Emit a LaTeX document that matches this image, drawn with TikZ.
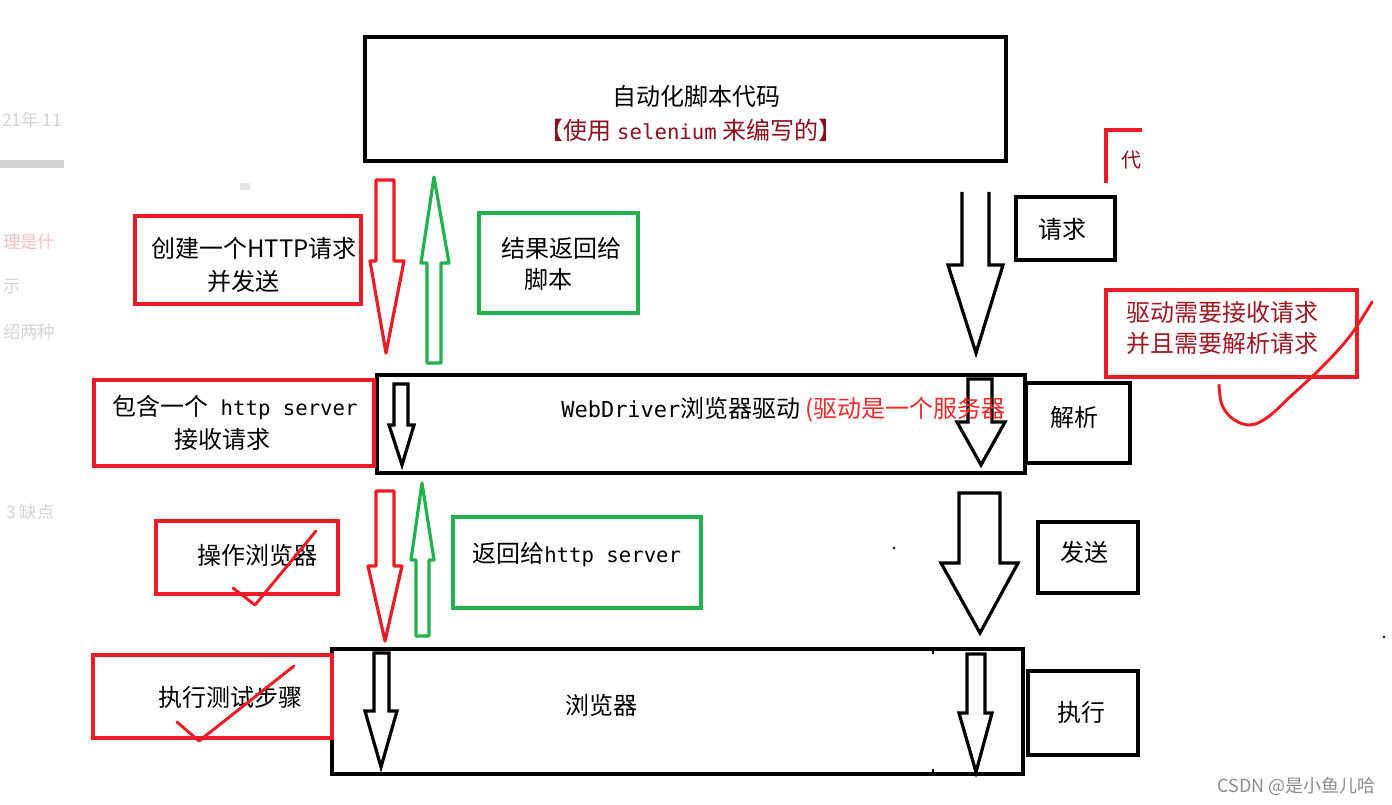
\documentclass[tikz,border=0pt]{standalone}
\usepackage{fontspec}
\setmainfont{Noto Sans CJK SC}
\newfontfamily\monof{DejaVu Sans Mono}
\definecolor{pred}{HTML}{ED1C24}
\definecolor{pgreen}{HTML}{22B14C}
\definecolor{dred}{HTML}{8B0F1A}
\definecolor{mred}{HTML}{9E1822}
\definecolor{tred}{HTML}{F42A2A}
\definecolor{faint}{HTML}{D4D4D4}
\definecolor{fpink}{HTML}{F5C0C0}
\tikzset{
  bbox/.style={draw=black, line width=2.4pt, inner sep=0pt},
  rbox/.style={draw=pred, line width=2.5pt, inner sep=0pt},
  gbox/.style={draw=pgreen, line width=2.5pt, inner sep=0pt},
  txt/.style={font=\fontsize{18}{22}\selectfont, inner sep=0pt},
  ftxt/.style={font=\fontsize{13}{15}\selectfont, text=faint, anchor=west, inner sep=0pt},
  barrow/.style={draw=black, line width=2.4pt, line join=miter},
  rarrow/.style={draw=pred, line width=2.4pt, line join=round},
  garrow/.style={draw=pgreen, line width=2.4pt, line join=round},
  checkmark/.style={draw=pred, line width=2.2pt, line cap=round, line join=round},
}
% box from pixel corners
\newcommand\pxbox[6]{\node[#2, minimum width={(#5-#3)*0.75pt}, minimum height={(#6-#4)*0.75pt}] (#1) at ({(#3+#5)/2},{(#4+#6)/2}) {};}
% block arrow: style, xl, xr, yend, yhead, hl, hr, xtip, ytip
\newcommand\blkarrow[9]{\draw[#1] (#2,#4) -- (#2,#5) -- (#6,#5) -- (#8,#9) -- (#7,#5) -- (#3,#5) -- (#3,#4) -- cycle;}
\newcommand\blkarrowopen[9]{\draw[#1] (#2,#4) -- (#2,#5) -- (#6,#5) -- (#8,#9) -- (#7,#5) -- (#3,#5) -- (#3,#4);}
\begin{document}
\begin{tikzpicture}[x=0.75pt,y=-0.75pt]
\useasboundingbox (0,0) rectangle (1392,805);
\fill[white] (0,0) rectangle (1392,805);

% faint background fragments of the screenshot
\node[ftxt] (f1) at (2,120) {21年 11};
\node[ftxt, text=fpink] (f2) at (3,242) {理是什};
\node[ftxt] (f3) at (3,287) {示};
\node[ftxt] (f4) at (3,332) {绍两种};
\node[ftxt] (f5) at (6,512) {3 缺点};
\fill[faint] (0,160) rectangle (64,168);
\fill[faint!60] (240,183) rectangle (250,190);

% top box
\pxbox{top}{bbox}{365}{37}{1006}{161}
\node[txt] (ttop1) at (696,96) {自动化脚本代码};
\node[txt, text=dred] (ttop2) at (691,130) {【使用 {\monof\fontsize{15.5}{20}\selectfont selenium} 来编写的】};

% partial red box fragment top right
\draw[pred, line width=2.5pt] (1106,183) -- (1106,130) -- (1142,130);
\node[font=\fontsize{15}{17}\selectfont, text=dred, inner sep=0pt] (frag) at (1131,160) {代};

% left red / green arrows (top)
\blkarrow{rarrow}{376}{394}{180}{261}{370}{404}{386}{353}
\blkarrow{garrow}{427}{441}{363}{263}{421}{449}{434}{177}

% boxes top-left
\pxbox{b1}{rbox}{135}{216}{361}{304}
\node[txt] (t1a) at (254,248) {创建一个HTTP请求};
\node[txt] (t1b) at (243,281) {并发送};
\pxbox{b2}{gbox}{479}{213}{638}{313}
\node[txt] (t2a) at (561,248) {结果返回给};
\node[txt] (t2b) at (548,279) {脚本};

% right arrow top (open top)
\blkarrowopen{barrow}{962}{989}{192}{265}{948}{1003}{976}{353}
\pxbox{b3}{bbox}{1016}{197}{1115}{260}
\node[txt] (t3) at (1062,229) {请求};

% red note box right
\pxbox{b4}{rbox}{1106}{290}{1357}{377}
\node[txt, text=mred, anchor=west] (t4a) at (1126,312) {驱动需要接收请求};
\node[txt, text=mred, anchor=west] (t4b) at (1126,343) {并且需要解析请求};
\draw[checkmark] plot[smooth, tension=0.6] coordinates {(1219,385) (1222,405) (1233,419) (1250,425) (1268,417) (1292,395) (1322,367) (1350,336) (1372,302)};

% WebDriver box
\pxbox{wd}{bbox}{377}{375}{1025}{473}
\blkarrow{barrow}{394}{408}{384}{425}{389}{414}{402}{465}
\blkarrow{barrow}{968}{992}{379}{422}{957}{1005}{981}{465}
\node[txt, anchor=west] (twd) at (561,410) {{\monof\fontsize{16.5}{20}\selectfont WebDriver}浏览器驱动\hspace{4pt}\textcolor{tred}{(驱动是一个服务器}};
\pxbox{b5}{rbox}{94}{380}{374}{466}
\node[txt, anchor=west] (t5a) at (112,408) {包含一个{\monof\fontsize{15.5}{20}\selectfont{} http server}};
\node[txt] (t5b) at (222,439) {接收请求};
\pxbox{b6}{bbox}{1026}{383}{1130}{463}
\node[txt] (t6) at (1074,417) {解析};

% middle arrows
\blkarrow{rarrow}{376}{394}{491}{566}{368}{402}{385}{641}
\blkarrow{garrow}{416}{429}{636}{560}{411}{434}{422}{483}
\pxbox{b7}{rbox}{156}{521}{338}{594}
\node[txt] (t7) at (257,555) {操作浏览器};
\draw[checkmark] (233,588) -- (255,605) -- (316,531);
\pxbox{b8}{gbox}{453}{517}{701}{608}
\node[txt, anchor=west] (t8) at (472,555) {返回给{\monof\fontsize{15.5}{20}\selectfont http server}};
\blkarrow{barrow}{959}{1000}{493}{563}{941}{1018}{980}{633}
\pxbox{b9}{bbox}{1038}{522}{1138}{593}
\node[txt] (t9) at (1084,552) {发送};
\fill (894,548) circle (1.3);
\fill (1384,637) circle (1.3);

% bottom box
\pxbox{br}{bbox}{332}{649}{1023}{774}
\draw[line width=1.6pt] (933,649) -- (933,654) (933,769) -- (933,774);
\blkarrow{barrow}{374}{389}{653}{711}{365}{397}{381}{767}
\blkarrow{barrow}{967}{985}{654}{713}{959}{992}{976}{772}
\node[txt] (tbr) at (601,705) {浏览器};
\pxbox{b10}{rbox}{93}{655}{332}{738}
\node[txt] (t10) at (230,697) {执行测试步骤};
\draw[checkmark] (177,722) -- (199,741) -- (294,666);
\pxbox{b11}{bbox}{1028}{671}{1138}{755}
\node[txt] (t11) at (1081,712) {执行};

% watermark
\node[font=\fontsize{13.5}{16}\selectfont, text=black!45, anchor=east, inner sep=0pt] (wm) at (1376,786) {CSDN @是小鱼儿哈};
\end{tikzpicture}
\end{document}
